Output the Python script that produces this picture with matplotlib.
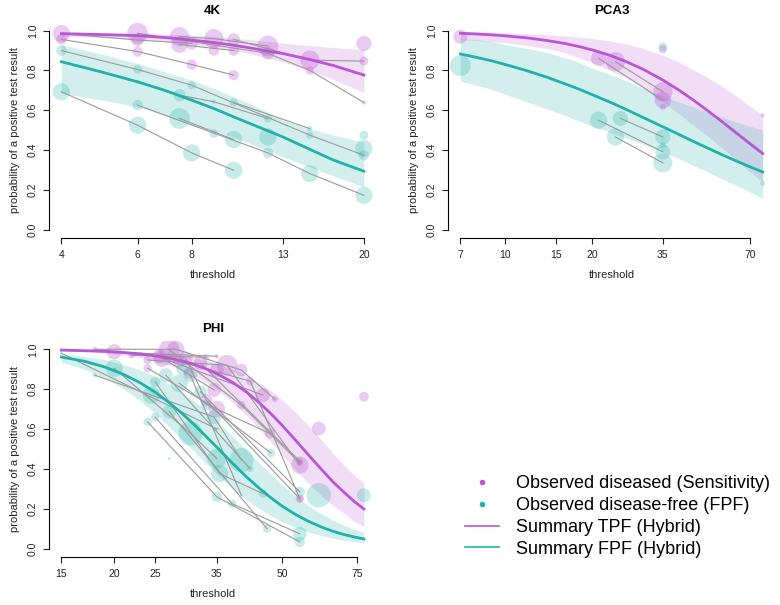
import numpy as np
import matplotlib
matplotlib.use('Agg')
import matplotlib.pyplot as plt
from matplotlib.lines import Line2D

plt.rcParams['font.family'] = ['Liberation Sans', 'DejaVu Sans']

PURPLE = '#BA55D3'
TEAL = '#20B2AA'
GREY = '#9a9a9a'

# ---------------- 4K ----------------
k4_ticks = [4, 6, 8, 13, 20]
# diseased points: study id (0 = no line), threshold, sensitivity, circle weight
k4_dis_study = [3, 1, 2, 3, 1, 4, 5, 3, 1, 4, 6, 7, 5, 1, 4, 2, 7, 2, 0, 7, 2]
k4_dis_thr = [4, 4, 6, 6, 6, 7.5, 7.5, 8, 8, 9, 9, 10, 10, 10, 12, 12, 15, 15, 20, 20, 20]
k4_dis_val = [0.985, 0.956, 0.987, 0.953, 0.895, 0.97, 0.93, 0.936, 0.83, 0.96, 0.90,
              0.956, 0.90, 0.777, 0.923, 0.886, 0.852, 0.80, 0.936, 0.847, 0.639]
k4_dis_w = [8.3, 5, 10, 6, 5, 9.3, 8, 6, 5, 9.3, 5, 6, 5, 5, 10, 6, 9.3, 4, 7.3, 4.3, 2]
# disease-free points: study id, threshold, FPF, circle weight
k4_free_study = [3, 1, 3, 0, 2, 1, 4, 5, 3, 1, 4, 6, 7, 5, 1, 4, 0, 2, 7, 3, 2, 0, 0, 3, 2]
k4_free_thr = [4, 4, 6, 6, 6, 6, 7.5, 7.5, 8, 8, 9, 9, 10, 10, 10, 12, 12, 12,
               15, 15, 15, 20, 20, 20, 20]
k4_free_val = [0.90, 0.693, 0.805, 0.743, 0.626, 0.525, 0.676, 0.559, 0.726, 0.386,
               0.643, 0.483, 0.64, 0.453, 0.299, 0.559, 0.466, 0.386, 0.508, 0.475,
               0.282, 0.475, 0.408, 0.374, 0.173]
k4_free_w = [5, 8.3, 4.3, 2, 5, 8.3, 6, 10, 4, 8.3, 2, 4.3, 4, 8.3, 8.3, 4, 8.3, 5,
             2.5, 3.5, 8.3, 4.3, 8.3, 5, 8.3]
# summary curves
k4_curve_thr = [4, 5, 6, 7, 8, 9, 10, 11, 12, 13, 15, 17, 20]
k4_tpf = [0.985, 0.980, 0.975, 0.965, 0.953, 0.940, 0.927, 0.912, 0.897, 0.885, 0.855, 0.825, 0.777]
k4_tpf_lo = [0.972, 0.965, 0.957, 0.945, 0.932, 0.917, 0.900, 0.882, 0.862, 0.843, 0.800, 0.755, 0.688]
k4_tpf_hi = [0.994, 0.991, 0.988, 0.983, 0.977, 0.970, 0.962, 0.954, 0.946, 0.938, 0.925, 0.915, 0.905]
k4_fpf = [0.844, 0.790, 0.743, 0.697, 0.651, 0.609, 0.567, 0.530, 0.497, 0.466, 0.404, 0.350, 0.294]
k4_fpf_lo = [0.685, 0.650, 0.617, 0.570, 0.525, 0.495, 0.466, 0.430, 0.395, 0.366, 0.315, 0.270, 0.215]
k4_fpf_hi = [0.930, 0.880, 0.835, 0.790, 0.752, 0.710, 0.668, 0.630, 0.590, 0.550, 0.508, 0.475, 0.441]

# ---------------- PCA3 ----------------
pca_ticks = [7, 10, 15, 20, 35, 70]
pca_dis_study = [1, 2, 3, 3, 2, 0, 0, 0]
pca_dis_thr = [7, 21, 24, 35, 35, 35, 35, 77.4]
pca_dis_val = [0.97, 0.861, 0.844, 0.693, 0.651, 0.617, 0.906, 0.575]
pca_dis_w = [6.7, 7.3, 9.3, 9.3, 8, 3, 4, 2]
pca_free_study = [1, 2, 3, 4, 3, 0, 2, 4, 0, 0]
pca_free_thr = [7, 21, 25, 24, 35, 35, 35, 35, 35, 77.4]
pca_free_val = [0.824, 0.55, 0.559, 0.466, 0.466, 0.424, 0.391, 0.336, 0.919, 0.232]
pca_free_w = [10, 8.3, 7.3, 8.3, 7.3, 3, 7.3, 9.3, 4, 2.5]
pca_curve_thr = [7, 8, 9, 10, 12, 14, 16, 18, 20, 23, 26, 30, 35, 40, 45, 50, 56, 63, 70, 77.4]
pca_tpf = [0.987, 0.983, 0.979, 0.974, 0.963, 0.950, 0.936, 0.920, 0.903, 0.876, 0.846,
           0.805, 0.752, 0.699, 0.647, 0.598, 0.543, 0.484, 0.432, 0.383]
pca_tpf_lo = [0.955, 0.950, 0.945, 0.940, 0.925, 0.910, 0.890, 0.865, 0.840, 0.800, 0.765,
              0.710, 0.640, 0.580, 0.520, 0.470, 0.410, 0.350, 0.290, 0.240]
pca_tpf_hi = [0.995, 0.994, 0.992, 0.990, 0.985, 0.980, 0.974, 0.967, 0.960, 0.948, 0.935,
              0.910, 0.877, 0.840, 0.800, 0.765, 0.720, 0.670, 0.620, 0.575]
pca_fpf = [0.883, 0.865, 0.848, 0.830, 0.797, 0.765, 0.734, 0.706, 0.678, 0.641, 0.606,
           0.563, 0.517, 0.477, 0.441, 0.410, 0.377, 0.344, 0.316, 0.290]
pca_fpf_lo = [0.745, 0.725, 0.705, 0.680, 0.640, 0.605, 0.575, 0.545, 0.520, 0.490, 0.460,
              0.430, 0.390, 0.355, 0.320, 0.290, 0.255, 0.220, 0.190, 0.156]
pca_fpf_hi = [0.960, 0.955, 0.945, 0.930, 0.910, 0.890, 0.865, 0.840, 0.810, 0.780, 0.750,
              0.710, 0.670, 0.640, 0.615, 0.590, 0.565, 0.540, 0.520, 0.500]

# ---------------- PHI ----------------
phi_ticks = [15, 20, 25, 35, 50, 75]
phi_dis_study = [1, 1, 2, 2, 2, 2, 0, 3, 3, 3, 4, 4, 4, 5, 5, 6, 6, 6, 7, 7, 7,
                 8, 8, 8, 9, 9, 10, 10, 0, 11, 11, 0, 0, 0]
phi_dis_thr = [15, 35, 18, 28, 40, 48, 20, 24, 35, 46.7, 24, 37, 55, 25.5, 45, 27, 40, 55,
               28.5, 42, 55, 29.5, 33, 55, 32, 55, 26, 34.5, 30, 22, 33, 35, 61, 78]
phi_dis_val = [0.995, 0.965, 1.0, 1.0, 0.896, 0.75, 0.988, 0.905, 0.70, 0.578, 0.946, 0.92,
               0.419, 0.963, 0.77, 0.997, 0.72, 0.43, 0.94, 0.84, 0.251, 0.955, 0.745, 0.25,
               0.93, 0.44, 0.955, 0.796, 0.88, 0.97, 0.96, 0.896, 0.603, 0.762]
phi_dis_w = [1.2, 2, 2.5, 8.3, 6, 3, 7.3, 4, 8, 5, 4, 10, 8.3, 6.7, 6.7, 10, 4, 3,
             6, 4, 4, 6.7, 6, 3, 6.7, 3, 8.3, 6.7, 5, 3, 3, 6.7, 6.7, 4.7]
phi_free_study = [1, 1, 2, 2, 2, 3, 3, 3, 4, 4, 4, 5, 5, 6, 6, 6, 7, 7, 8, 8, 9, 9,
                  10, 10, 11, 11, 11, 0, 0, 0, 0, 0, 0]
phi_free_thr = [15, 35, 18, 34.5, 40, 24, 35, 55, 25, 38, 55, 27, 46, 25, 35.5, 45, 26.5, 42,
                28.5, 47, 30.3, 40, 32, 55, 20, 30.3, 35, 24.5, 27, 61, 78, 29, 33]
phi_free_val = [0.98, 0.60, 0.87, 0.66, 0.444, 0.636, 0.26, 0.034, 0.66, 0.226, 0.075, 0.687,
                0.10, 0.837, 0.377, 0.276, 0.87, 0.40, 0.83, 0.48, 0.87, 0.268, 0.787, 0.285,
                0.905, 0.578, 0.452, 0.77, 0.452, 0.268, 0.268, 0.90, 0.72]
phi_free_w = [1.2, 2, 2, 6.7, 11.7, 4, 5, 5, 4, 4, 6.7, 6.7, 4, 5, 8.3, 4, 6.7, 3,
              8.3, 4, 6.7, 1.5, 6, 5, 8.3, 11.7, 9.3, 8.3, 1.5, 11.7, 6.7, 6, 5]
phi_curve_thr = [15, 17, 19, 21, 23, 25, 27, 29, 31, 33, 35, 38, 41, 44, 47, 50, 54, 58,
                 62, 66, 70, 74, 78]
phi_tpf = [0.996, 0.993, 0.990, 0.984, 0.977, 0.967, 0.955, 0.941, 0.923, 0.902, 0.878, 0.836,
           0.788, 0.734, 0.677, 0.618, 0.539, 0.464, 0.396, 0.334, 0.283, 0.237, 0.199]
phi_tpf_lo = [0.993, 0.988, 0.981, 0.971, 0.959, 0.942, 0.922, 0.897, 0.868, 0.835, 0.799,
              0.737, 0.671, 0.603, 0.535, 0.470, 0.391, 0.322, 0.264, 0.216, 0.178, 0.137, 0.112]
phi_tpf_hi = [0.998, 0.996, 0.994, 0.991, 0.987, 0.982, 0.975, 0.967, 0.956, 0.944, 0.929,
              0.903, 0.871, 0.834, 0.792, 0.746, 0.680, 0.612, 0.544, 0.478, 0.418, 0.369, 0.330]
phi_fpf = [0.961, 0.940, 0.911, 0.875, 0.833, 0.785, 0.732, 0.677, 0.620, 0.563, 0.509, 0.431,
           0.363, 0.305, 0.255, 0.213, 0.169, 0.135, 0.108, 0.087, 0.071, 0.059, 0.049]
phi_fpf_lo = [0.935, 0.900, 0.855, 0.802, 0.743, 0.678, 0.612, 0.547, 0.485, 0.426, 0.374,
              0.304, 0.248, 0.202, 0.165, 0.135, 0.105, 0.082, 0.065, 0.052, 0.043, 0.035, 0.029]
phi_fpf_hi = [0.977, 0.964, 0.947, 0.924, 0.897, 0.864, 0.826, 0.784, 0.739, 0.691, 0.642,
              0.568, 0.497, 0.432, 0.373, 0.320, 0.261, 0.213, 0.174, 0.142, 0.118, 0.098, 0.081]

W, H = 780, 605
fig = plt.figure(figsize=(W / 100, H / 100), dpi=100)


def study_lines(ax, study, thr, val):
    study = np.array(study); thr = np.array(thr); val = np.array(val)
    for s in np.unique(study):
        if s == 0:
            continue
        m = study == s
        o = np.argsort(thr[m])
        ax.plot(thr[m][o], val[m][o], color=GREY, lw=0.8, zorder=3)


def panel(box, title, ticks, dis, free, curve):
    l, t, r, b = box
    ax = fig.add_axes([l / W, 1 - b / H, (r - l) / W, (b - t) / H])
    ax.set_xscale('log')
    cthr = curve[0]
    lo, hi = min(cthr), max(cthr)
    pad = (hi / lo) ** 0.04
    ax.set_xlim(lo / pad, hi * pad)
    ax.set_ylim(-0.04, 1.04)

    # confidence bands
    ax.fill_between(cthr, curve[2], curve[3], color=PURPLE, alpha=0.2, lw=0, zorder=1)
    ax.fill_between(cthr, curve[5], curve[6], color=TEAL, alpha=0.2, lw=0, zorder=1)

    # observed study points
    ax.scatter(dis[1], dis[2], s=(1.5 * np.array(dis[3])) ** 2, color=PURPLE,
               alpha=0.3, lw=0, zorder=2)
    ax.scatter(free[1], free[2], s=(1.5 * np.array(free[3])) ** 2, color=TEAL,
               alpha=0.25, lw=0, zorder=2)
    study_lines(ax, dis[0], dis[1], dis[2])
    study_lines(ax, free[0], free[1], free[2])

    # summary curves
    ax.plot(cthr, curve[1], color=PURPLE, lw=2.0, zorder=4)
    ax.plot(cthr, curve[4], color=TEAL, lw=2.0, zorder=4)

    for s in ['top', 'right']:
        ax.spines[s].set_visible(False)
    ax.spines['left'].set_bounds(0, 1)
    ax.spines['bottom'].set_bounds(ticks[0], ticks[-1])
    for s in ['left', 'bottom']:
        ax.spines[s].set_linewidth(0.8)
    ax.set_xticks(ticks)
    ax.set_xticklabels([str(v) for v in ticks])
    ax.xaxis.set_minor_locator(matplotlib.ticker.NullLocator())
    ax.set_yticks([0, 0.2, 0.4, 0.6, 0.8, 1.0])
    ax.set_yticklabels(['0.0', '0.2', '0.4', '0.6', '0.8', '1.0'], rotation=90, va='center')
    ax.tick_params(direction='out', length=4.3, width=0.8, labelsize=7.5, colors='#222222')
    ax.tick_params(axis='x', pad=4.3)
    ax.tick_params(axis='y', pad=3.8)
    ax.set_xlabel('threshold', fontsize=8, labelpad=7.5, color='#222222')
    ax.set_ylabel('probability of a positive test result', fontsize=8, labelpad=5.5,
                  color='#222222')
    ax.set_title(title, fontsize=9.5, fontweight='bold', pad=6.5)
    return ax


panel((49.3, 22.7, 376, 237.7), '4K', k4_ticks,
      (k4_dis_study, k4_dis_thr, k4_dis_val, k4_dis_w),
      (k4_free_study, k4_free_thr, k4_free_val, k4_free_w),
      (k4_curve_thr, k4_tpf, k4_tpf_lo, k4_tpf_hi, k4_fpf, k4_fpf_lo, k4_fpf_hi))
panel((448.3, 22.7, 774.8, 237.7), 'PCA3', pca_ticks,
      (pca_dis_study, pca_dis_thr, pca_dis_val, pca_dis_w),
      (pca_free_study, pca_free_thr, pca_free_val, pca_free_w),
      (pca_curve_thr, pca_tpf, pca_tpf_lo, pca_tpf_hi, pca_fpf, pca_fpf_lo, pca_fpf_hi))
panel((49.3, 341.3, 376, 556.7), 'PHI', phi_ticks,
      (phi_dis_study, phi_dis_thr, phi_dis_val, phi_dis_w),
      (phi_free_study, phi_free_thr, phi_free_val, phi_free_w),
      (phi_curve_thr, phi_tpf, phi_tpf_lo, phi_tpf_hi, phi_fpf, phi_fpf_lo, phi_fpf_hi))

handles = [
    Line2D([], [], ls='none', marker='o', ms=4, color=PURPLE, mec='none'),
    Line2D([], [], ls='none', marker='o', ms=4, color=TEAL, mec='none'),
    Line2D([], [], color=PURPLE, lw=1.2),
    Line2D([], [], color=TEAL, lw=1.2),
]
labels = ['Observed diseased (Sensitivity)', 'Observed disease-free (FPF)',
          'Summary TPF (Hybrid)', 'Summary FPF (Hybrid)']
fig.legend(handles, labels, loc='upper left', bbox_to_anchor=(465 / W, 1 - 475.5 / H),
           frameon=False, fontsize=13, handlelength=1.9, handletextpad=0.9,
           labelspacing=0.26, borderpad=0, borderaxespad=0)

fig.savefig('out.png', dpi=100)
